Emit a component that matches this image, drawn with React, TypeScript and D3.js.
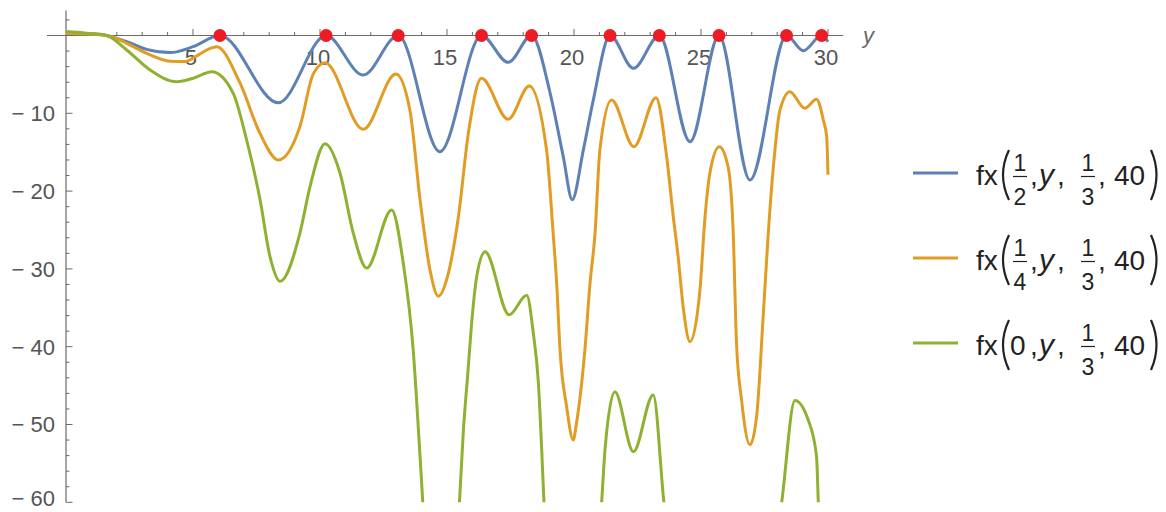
import React, { useEffect, useRef } from 'react'
import * as d3 from 'd3'

// values, [y, value]
const bluePoints: [number, number][] = [
  [0, 0.3], [0.8, 0.25], [1.6, 0], [2.39, -0.8], [3.18, -1.78], [4.1, -2.2], [5.0, -1.44], [6.06, 0],
  [8.36, -8.64], [10.24, 0], [11.7, -5.08], [13.08, 0],
  [14.72, -14.93], [16.36, 0], [17.41, -3.45], [18.33, 0], [19.06, -7.4],
  [19.58, -15.6], [19.93, -21.1], [20.37, -14.7], [20.76, -8.3], [21.42, 0], [22.34, -4.22], [23.36, 0],
  [24.57, -13.65], [25.71, 0], [26.93, -18.57],
  [28.37, 0], [29.03, -1.95], [29.75, 0], [30, -0.8],
]

const orangePoints: [number, number][] = [
  [0, 0.3], [0.8, 0.2], [1.6, 0], [2.39, -1.0], [3.18, -2.3], [4.1, -3.3], [4.7, -3.35], [5.0, -2.9],
  [5.93, -1.44], [6.85, -6.1], [7.64, -12.6], [8.36, -16.0], [9.21, -11.7], [9.74, -4.9], [10.2, -3.5],
  [11.7, -12.06], [12.99, -4.95], [13.54, -9.6], [13.94, -21.1], [14.33, -30.1],
  [14.66, -33.5], [15.05, -30.6], [15.45, -23.3], [15.84, -12.6], [16.36, -5.5], [17.41, -10.77], [18.24, -6.49],
  [18.92, -14.7], [19.18, -25.4], [19.32, -31.9], [19.45, -40.4], [19.71, -47.7], [19.97, -52.0], [20.1, -49.8],
  [20.43, -40.4], [20.63, -31.9], [20.83, -25.4], [21.02, -14.7], [21.48, -8.29], [22.36, -14.29], [23.23, -7.99],
  [23.65, -15.6], [23.91, -23.3], [24.1, -28.4], [24.3, -34.9], [24.57, -39.36], [24.96, -32.7], [25.16, -23.3],
  [25.35, -17.7], [25.72, -14.29], [26.07, -16.9], [26.27, -25.4], [26.4, -39.6], [26.6, -46.9], [26.93, -52.6],
  [27.19, -49.0], [27.45, -36.1], [27.65, -25.4], [27.85, -16.9], [28.11, -9.6], [28.5, -7.22], [29.09, -9.36],
  [29.55, -8.2], [29.82, -10.9], [29.95, -13.0], [30, -17.9],
]

// the green one dips below the plot range, points under -60 are guesses and get clipped
const greenPoints: [number, number][] = [
  [0, 0.5], [0.8, 0.3], [1.6, 0], [2.39, -1.86], [3.31, -4.43], [4.36, -5.94], [5.01, -5.5], [5.74, -4.65],
  [6.58, -7.4], [7.11, -13.4], [7.64, -21.1], [8.03, -28.4], [8.43, -31.6], [9.21, -25.4], [9.61, -19.4],
  [10.2, -13.9], [10.79, -17.7], [11.31, -25.4], [11.84, -29.9], [12.82, -22.43], [13.28, -29.3],
  [13.67, -40.4], [13.94, -54.1], [14.2, -68], [14.75, -82], [15.25, -70], [15.49, -60],
  [15.64, -51.1], [15.84, -42.6], [15.97, -37], [16.17, -31], [16.5, -27.8], [17.45, -35.9], [18.14, -33.4],
  [18.4, -38.3], [18.6, -44.7], [18.73, -53.3], [18.82, -60], [20.0, -95], [21.09, -60], [21.22, -53.3],
  [21.61, -45.8], [22.34, -53.5], [23.12, -46.2], [23.54, -60], [25.8, -110], [28.18, -60], [28.7, -46.9],
  [29.22, -49.4], [29.55, -54.1], [29.62, -60], [30, -80],
]

// red markers where the blue curve touches zero
const zeroXs = [6.06, 10.24, 13.08, 16.36, 18.33, 21.42, 23.36, 25.71, 28.37, 29.75]

const xMajor = [5, 10, 15, 20, 25, 30]
const yMajor = [-10, -20, -30, -40, -50, -60]

const seriesColors = ['#5E81B5', '#E19C24', '#8FB131']
const legendFirstArg = [['1', '2'], ['1', '4'], ['0']]

const App = () => {
  const svgRef = useRef<SVGSVGElement>(null)

  useEffect(() => {
    const svg = d3.select(svgRef.current)
    svg.selectAll('*').remove()

    const x = d3.scaleLinear().domain([0, 30.6]).range([66, 843.2])
    const y = d3.scaleLinear().domain([-60, 3.2]).range([502.3, 10.6])
    const axisColor = '#6b6b6b'
    const labelFont = "'Liberation Sans', Arial, sans-serif"

    svg
      .append('defs')
      .append('clipPath')
      .attr('id', 'plotclip')
      .append('rect')
      .attr('x', x(0) - 2)
      .attr('y', 0)
      .attr('width', x(30.6) - x(0) + 4)
      .attr('height', y(-60))

    // x axis
    const xMinor = d3.range(1, 31).filter((v) => v % 5 !== 0)
    const gx = svg.append('g').attr('transform', `translate(0,${y(0)})`)
    gx.append('line')
      .attr('x1', x(-0.75))
      .attr('x2', x(30.6))
      .attr('stroke', axisColor)
      .attr('stroke-width', 1.2)
    gx.selectAll('.minor')
      .data(xMinor)
      .join('line')
      .attr('x1', (d) => x(d))
      .attr('x2', (d) => x(d))
      .attr('y1', 0)
      .attr('y2', -3.5)
      .attr('stroke', axisColor)
    gx.selectAll('.major')
      .data(xMajor)
      .join('line')
      .attr('x1', (d) => x(d))
      .attr('x2', (d) => x(d))
      .attr('y1', 0)
      .attr('y2', -6.5)
      .attr('stroke', axisColor)
    gx.selectAll('text')
      .data(xMajor)
      .join('text')
      .attr('x', (d) => x(d) - 2)
      .attr('y', 29.5)
      .attr('text-anchor', 'middle')
      .style('font-family', labelFont)
      .style('font-size', '22px')
      .style('fill', '#555')
      .text((d) => d)

    // y axis
    const yMinor = d3.range(-58, 4, 2).filter((v) => v % 10 !== 0)
    const gy = svg.append('g').attr('transform', `translate(${x(0)},0)`)
    gy.append('line')
      .attr('y1', y(3.2))
      .attr('y2', y(-60))
      .attr('stroke', axisColor)
      .attr('stroke-width', 1.2)
    gy.selectAll('.minor')
      .data(yMinor)
      .join('line')
      .attr('y1', (d) => y(d))
      .attr('y2', (d) => y(d))
      .attr('x1', 0)
      .attr('x2', 3.5)
      .attr('stroke', axisColor)
    gy.selectAll('.major')
      .data(yMajor)
      .join('line')
      .attr('y1', (d) => y(d))
      .attr('y2', (d) => y(d))
      .attr('x1', 0)
      .attr('x2', 6.5)
      .attr('stroke', axisColor)
    gy.selectAll('text')
      .data(yMajor)
      .join('text')
      .attr('x', -11)
      .attr('y', (d) => Math.min(y(d) + 8, 506))
      .attr('text-anchor', 'end')
      .style('font-family', labelFont)
      .style('font-size', '22px')
      .style('fill', '#555')
      .text((d) => `\u2212 ${Math.abs(d)}`)

    svg
      .append('text')
      .attr('x', 863)
      .attr('y', 43)
      .style('font-family', labelFont)
      .style('font-size', '22px')
      .style('font-style', 'italic')
      .style('fill', '#666')
      .text('y')

    // curves
    const line = d3
      .line<[number, number]>()
      .x((d) => x(d[0]))
      .y((d) => y(d[1]))
      .curve(d3.curveMonotoneX)

    const plot = svg.append('g').attr('clip-path', 'url(#plotclip)')
    ;[bluePoints, orangePoints, greenPoints].forEach((pts, i) => {
      plot
        .append('path')
        .datum(pts)
        .attr('d', line)
        .attr('fill', 'none')
        .attr('stroke', seriesColors[i])
        .attr('stroke-width', 3)
        .attr('stroke-linejoin', 'round')
    })

    svg
      .append('g')
      .selectAll('circle')
      .data(zeroXs)
      .join('circle')
      .attr('cx', (d) => x(d))
      .attr('cy', y(0))
      .attr('r', 6.5)
      .attr('fill', '#ED1C24')

    // legend
    const legend = svg.append('g').style('font-family', labelFont).style('fill', '#222')
    const frac = (g, cx: number, cy: number, num: string, den: string) => {
      g.append('text').attr('x', cx).attr('y', cy - 2.5).attr('text-anchor', 'middle').style('font-size', '23px').text(num)
      g.append('line')
        .attr('x1', cx - 7)
        .attr('x2', cx + 7)
        .attr('y1', cy + 3.5)
        .attr('y2', cy + 3.5)
        .attr('stroke', '#222')
        .attr('stroke-width', 1.2)
      g.append('text').attr('x', cx).attr('y', cy + 32).attr('text-anchor', 'middle').style('font-size', '23px').text(den)
    }
    const txt = (g, xx: number, yy: number, s: string, italic = false, size = 28) =>
      g
        .append('text')
        .attr('x', xx)
        .attr('y', yy)
        .style('font-size', `${size}px`)
        .style('font-style', italic ? 'italic' : 'normal')
        .text(s)

    legendFirstArg.forEach((arg, i) => {
      const cy = 173 + i * 85
      const g = legend.append('g')
      g.append('line')
        .attr('x1', 913)
        .attr('x2', 958)
        .attr('y1', cy)
        .attr('y2', cy)
        .attr('stroke', seriesColors[i])
        .attr('stroke-width', 3)
      txt(g, 976, cy + 12, 'fx')
      g.append('path')
        .attr('d', `M1009,${cy - 23} Q997,${cy + 2} 1009,${cy + 27}`)
        .attr('fill', 'none')
        .attr('stroke', '#222')
        .attr('stroke-width', 2.2)
      if (arg.length === 2) frac(g, 1020, cy, arg[0], arg[1])
      else txt(g, 1010, cy + 12, arg[0])
      txt(g, 1030, cy + 12, ',')
      txt(g, 1039, cy + 12, 'y', true, 30)
      txt(g, 1057, cy + 12, ',')
      frac(g, 1088, cy, '1', '3')
      txt(g, 1098, cy + 12, ',')
      txt(g, 1114, cy + 12, '40')
      g.append('path')
        .attr('d', `M1151,${cy - 23} Q1162,${cy + 2} 1151,${cy + 27}`)
        .attr('fill', 'none')
        .attr('stroke', '#222')
        .attr('stroke-width', 2.2)
    })
  }, [])

  return (
    <svg
      ref={svgRef}
      width={1166}
      height={512}
      style={{ position: 'absolute', left: 0, top: 0, background: '#fff' }}
    ></svg>
  )
}

export default App
